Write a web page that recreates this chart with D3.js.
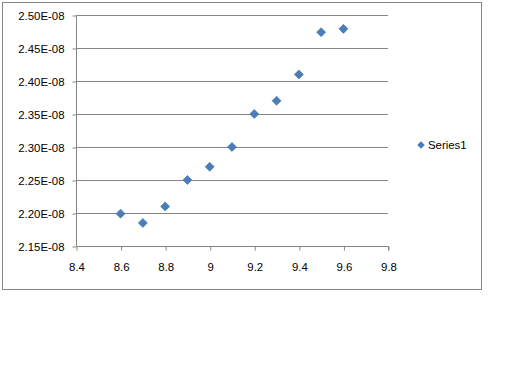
<!DOCTYPE html>
<html>
<head>
<meta charset="utf-8">
<script src="https://cdn.jsdelivr.net/npm/d3@7.9.0/dist/d3.min.js"></script>
<style>
  html, body { margin: 0; padding: 0; background: #fff; }
  svg text { font-family: "Liberation Sans", Arial, sans-serif; font-size: 11.4px; fill: #000; }
</style>
</head>
<body>
<svg id="chart" width="512" height="384"></svg>
<script>
// data
const xValues = [8.6, 8.7, 8.8, 8.9, 9.0, 9.1, 9.2, 9.3, 9.4, 9.5, 9.6];
const yValues = [2.199e-8, 2.185e-8, 2.21e-8, 2.25e-8, 2.27e-8, 2.30e-8, 2.35e-8, 2.37e-8, 2.41e-8, 2.474e-8, 2.479e-8];
const xTicks = [8.4, 8.6, 8.8, 9.0, 9.2, 9.4, 9.6, 9.8];
const xTickLabels = ["8.4", "8.6", "8.8", "9", "9.2", "9.4", "9.6", "9.8"];
const yTicks = [2.15e-8, 2.20e-8, 2.25e-8, 2.30e-8, 2.35e-8, 2.40e-8, 2.45e-8, 2.50e-8];
const yTickLabels = ["2.15E-08", "2.20E-08", "2.25E-08", "2.30E-08", "2.35E-08", "2.40E-08", "2.45E-08", "2.50E-08"];
const seriesName = "Series1";

const gray = "#868686";
const blue = "#4a7ebb";
const font = '"Liberation Sans", Arial, sans-serif';

const svg = d3.select("#chart");

// outer chart frame
svg.append("rect")
  .attr("x", 2.5).attr("y", 2.5)
  .attr("width", 479).attr("height", 287)
  .attr("fill", "#fff").attr("stroke", gray);

const x = d3.scaleLinear().domain([8.4, 9.8]).range([76, 388]);
const y = d3.scaleLinear().domain([2.15e-8, 2.50e-8]).range([246, 15]);

// gridlines
svg.append("g")
  .selectAll("line")
  .data(yTicks.slice(1))
  .enter().append("line")
  .attr("x1", 76).attr("x2", 388)
  .attr("y1", d => Math.round(y(d)) + 0.5)
  .attr("y2", d => Math.round(y(d)) + 0.5)
  .attr("stroke", gray);

// y axis
const yAxis = d3.axisLeft(y)
  .tickValues(yTicks)
  .tickSize(4)
  .tickPadding(8)
  .tickFormat((d, i) => yTickLabels[i]);
const gy = svg.append("g")
  .attr("transform", "translate(76.5,0.5)")
  .call(yAxis);

// x axis
const xAxis = d3.axisBottom(x)
  .tickValues(xTicks)
  .tickSize(4)
  .tickPadding(12)
  .tickFormat((d, i) => xTickLabels[i]);
const gx = svg.append("g")
  .attr("transform", "translate(0.5,246.5)")
  .call(xAxis);

[gx, gy].forEach(g => {
  g.select(".domain").attr("stroke", gray);
  g.selectAll(".tick line").attr("stroke", gray);
  g.selectAll(".tick text").attr("fill", "#000")
    .style("font-family", font)
    .style("font-size", "11.4px");
});
gy.select(".domain").attr("d", `M0,${y.range()[1]}V${y.range()[0]}`);
gx.select(".domain").attr("d", `M${x.range()[0]},0H${x.range()[1]}V4`);

// points
const diamond = d3.symbol().type(d3.symbolDiamond2).size(52);
svg.append("g")
  .selectAll("path")
  .data(xValues.map((v, i) => [v, yValues[i]]))
  .enter().append("path")
  .attr("d", diamond)
  .attr("transform", d => `translate(${x(d[0])},${y(d[1])})`)
  .attr("fill", blue)
  .attr("stroke", "#3f6fa8")
  .attr("stroke-width", 0.6);

// legend
const legend = svg.append("g").attr("transform", "translate(421,145)");
legend.append("path")
  .attr("d", d3.symbol().type(d3.symbolDiamond2).size(36))
  .attr("fill", blue);
legend.append("text")
  .attr("x", 7).attr("dy", "0.35em")
  .style("font-family", font)
  .style("font-size", "11.4px")
  .text(seriesName);
</script>
</body>
</html>
